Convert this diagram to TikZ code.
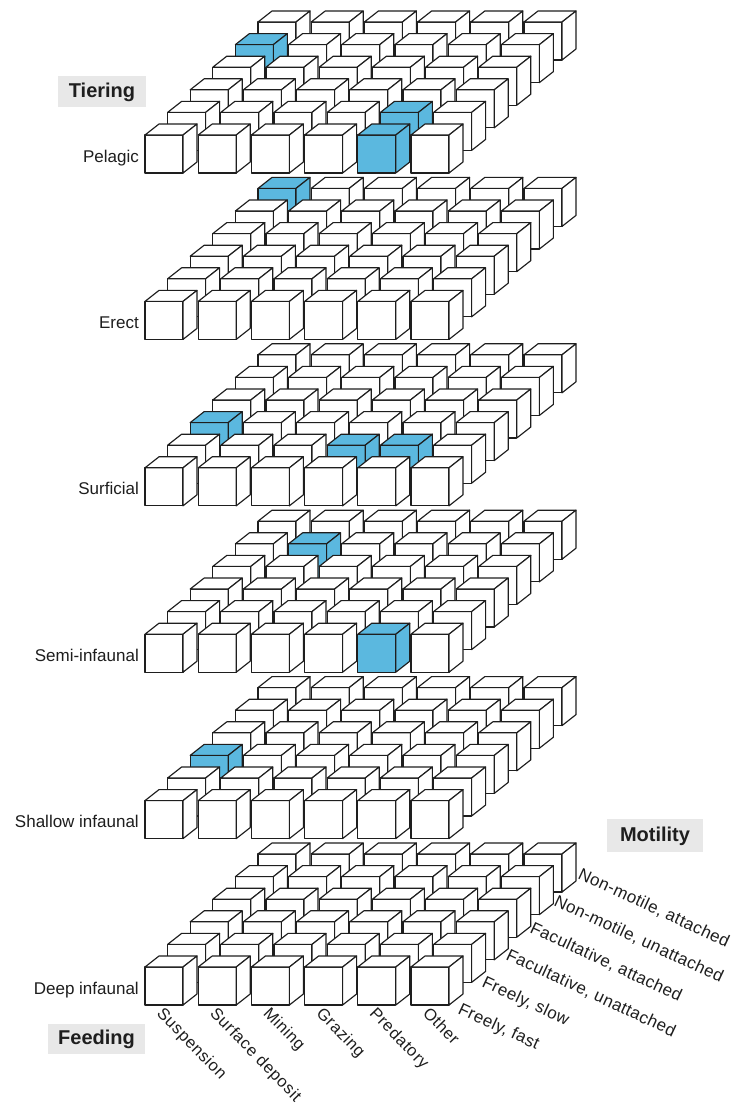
\documentclass[tikz,border=0pt]{standalone}
\usepackage{fontspec}
\setmainfont{Liberation Sans}
\newfontfamily\feedfont[LetterSpace=4]{Liberation Sans}
\newfontfamily\motfont[LetterSpace=2.5]{Liberation Sans}
\definecolor{cubeblue}{HTML}{5BB8DF}
\definecolor{boxgrey}{HTML}{E8E8E8}
\definecolor{ink}{HTML}{1E1E1E}
\def\markblue#1{\expandafter\def\csname blue#1\endcsname{}}
\markblue{0-4-0}\markblue{0-0-4}\markblue{0-1-4}
\markblue{1-5-0}
\markblue{2-2-0}\markblue{2-1-3}\markblue{2-1-4}
\markblue{3-4-1}\markblue{3-0-4}
\markblue{4-2-0}
\begin{document}
\begin{tikzpicture}[x=1pt,y=-1pt,
  cubeline/.style={draw=ink, line width=1.15pt, line join=round},
  tierlab/.style={font=\fontsize{17}{20}\selectfont, text=ink, inner sep=0pt, anchor=base east},
  feedlab/.style={font=\feedfont\fontsize{16.5}{20}\selectfont, text=ink, inner sep=0pt, anchor=base west, rotate=-46},
  motlab/.style={font=\motfont\fontsize{17}{20}\selectfont, text=ink, inner sep=0pt, anchor=base west, rotate=-25},
  headbox/.style={fill=boxgrey, draw=none},
  headlab/.style={font=\fontsize{20}{24}\selectfont\bfseries, text=ink, inner sep=0pt}]
\useasboundingbox (0,0) rectangle (733,1104);
\fill[white] (0,0) rectangle (733,1104);
% cubes
\foreach \L in {0,...,5}{
  \foreach \r in {5,4,...,0}{
    \foreach \c in {0,...,5}{
      \pgfmathsetmacro\X{145+53.2*\c+22.6*\r}
      \pgfmathsetmacro\Y{173+166.4*\L-22.6*\r}
      \ifcsname blue\L-\r-\c\endcsname\def\fc{cubeblue}\else\def\fc{white}\fi
      \filldraw[cubeline, fill=\fc] (\X,\Y) -- ++(38,0) -- ++(0,-38) -- ++(-38,0) -- cycle;
      \filldraw[cubeline, fill=\fc] (\X,\Y-38) -- ++(14,-11) -- ++(38,0) -- ++(-14,11) -- cycle;
      \filldraw[cubeline, fill=\fc] (\X+38,\Y) -- ++(14,-11) -- ++(0,-38) -- ++(-14,11) -- cycle;
    }
  }
}
% tiering labels
\node[tierlab] (t0) at (139,162) {Pelagic};
\node[tierlab] (t1) at (139,162+166.4) {Erect};
\node[tierlab] (t2) at (139,162+2*166.4) {Surficial};
\node[tierlab] (t3) at (139,162+3*166.4) {Semi-infaunal};
\node[tierlab] (t4) at (139,162+4*166.4) {Shallow infaunal};
\node[tierlab] (t5) at (139,162+5*166.4) {Deep infaunal};
% headers
\fill[headbox] (58,76) rectangle (146,107);
\node[headlab] (hT) at (102,92) {Tiering};
\fill[headbox] (48,1024) rectangle (145,1054);
\node[headlab] (hF) at (96.5,1039) {Feeding};
\fill[headbox] (607,819) rectangle (703,852);
\node[headlab] (hM) at (655,836) {Motility};
% feeding labels
\node[feedlab] (f0) at (156,1014) {Suspension};
\node[feedlab] (f1) at (156+53.2,1014) {Surface deposit};
\node[feedlab] (f2) at (156+2*53.2,1014) {Mining};
\node[feedlab] (f3) at (156+3*53.2,1014) {Grazing};
\node[feedlab] (f4) at (156+4*53.2,1014) {Predatory};
\node[feedlab] (f5) at (156+5*53.2,1014) {Other};
% motility labels
\node[motlab] (m0) at (457,1013) {Freely, fast};
\node[motlab] (m1) at (457+24,1013-27) {Freely, slow};
\node[motlab] (m2) at (457+2*24,1013-2*27) {Facultative, unattached};
\node[motlab] (m3) at (457+3*24,1013-3*27) {Facultative, attached};
\node[motlab] (m4) at (457+4*24,1013-4*27) {Non-motile, unattached};
\node[motlab] (m5) at (457+5*24,1013-5*27) {Non-motile, attached};
\end{tikzpicture}
\end{document}
